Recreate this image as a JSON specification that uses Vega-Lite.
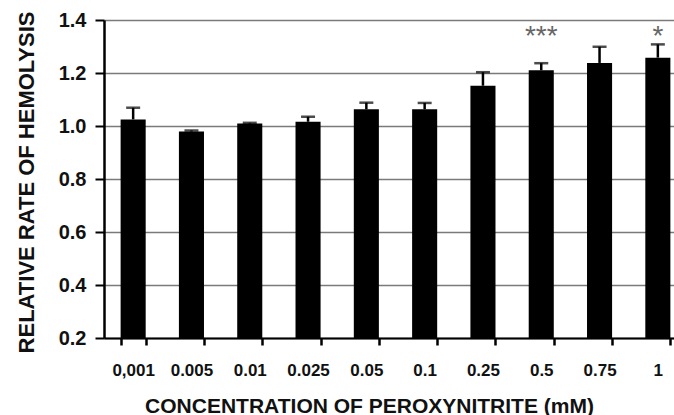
{
  "$schema": "https://vega.github.io/schema/vega-lite/v6.json",
  "autosize": "none",
  "padding": {"left": 104, "top": 20, "right": 0, "bottom": 77},
  "width": 583,
  "height": 318,
  "config": {
    "font": "Liberation Sans",
    "view": {"stroke": null},
    "background": "white"
  },
  "data": {
    "values": [
      {"conc": "0,001", "mean": 1.025, "upper": 1.069, "sig": ""},
      {"conc": "0.005", "mean": 0.979, "upper": 0.983, "sig": ""},
      {"conc": "0.01", "mean": 1.009, "upper": 1.012, "sig": ""},
      {"conc": "0.025", "mean": 1.016, "upper": 1.035, "sig": ""},
      {"conc": "0.05", "mean": 1.063, "upper": 1.088, "sig": ""},
      {"conc": "0.1", "mean": 1.063, "upper": 1.087, "sig": ""},
      {"conc": "0.25", "mean": 1.152, "upper": 1.203, "sig": ""},
      {"conc": "0.5", "mean": 1.21, "upper": 1.237, "sig": "***"},
      {"conc": "0.75", "mean": 1.238, "upper": 1.299, "sig": ""},
      {"conc": "1", "mean": 1.258, "upper": 1.308, "sig": "*"}
    ]
  },
  "encoding": {
    "x": {
      "field": "conc", "type": "nominal", "sort": null,
      "scale": {"paddingInner": 0.57, "paddingOuter": 0.285},
      "axis": {
        "title": "CONCENTRATION OF PEROXYNITRITE (mM)",
        "titleFontSize": 21, "titleFontWeight": "bold", "titleColor": "#111",
        "titleX": 265, "titleY": 74, "titleBaseline": "alphabetic", "titleAlign": "center",
        "labelAngle": 0, "labelFontSize": 17, "labelFontWeight": "bold", "labelColor": "#111",
        "labelBaseline": "alphabetic", "labelPadding": 30,
        "ticks": true, "tickBand": "extent", "tickSize": 7, "tickColor": "#000000", "tickWidth": 2.5,
        "domainColor": "black", "domainWidth": 2
      }
    }
  },
  "layer": [
    {
      "mark": {"type": "bar", "color": "black"},
      "encoding": {
        "y": {
          "field": "mean", "type": "quantitative",
          "scale": {"domain": [0.2, 1.4], "zero": false, "nice": false},
          "axis": {
            "title": "RELATIVE RATE OF HEMOLYSIS",
            "titleFontSize": 22, "titleFontWeight": "bold", "titleColor": "#111",
            "titleX": -71, "titleY": 162, "titleAngle": -90, "titleAlign": "center", "titleBaseline": "alphabetic",
            "values": [0.2, 0.4, 0.6, 0.8, 1.0, 1.2, 1.4], "format": ".1f",
            "labelFontSize": 20, "labelFontWeight": "bold", "labelColor": "#111", "labelPadding": 9,
            "tickSize": 9, "tickColor": "black", "tickWidth": 2,
            "domainColor": "black", "domainWidth": 2.5,
            "grid": true, "gridColor": "#7a7a7a", "gridWidth": 1.5
          }
        },
        "y2": {"datum": 0.2}
      }
    },
    {
      "mark": {"type": "rule", "color": "black", "strokeWidth": 2.5},
      "encoding": {
        "y": {"field": "mean", "type": "quantitative"},
        "y2": {"field": "upper"}
      }
    },
    {
      "mark": {"type": "tick", "color": "black", "thickness": 2.5, "size": 14},
      "encoding": {
        "y": {"field": "upper", "type": "quantitative"}
      }
    },
    {
      "mark": {"type": "text", "color": "#666", "fontSize": 28, "baseline": "alphabetic", "align": "center"},
      "encoding": {
        "y": {"datum": 1.305, "type": "quantitative"},
        "text": {"field": "sig"}
      }
    }
  ]
}
